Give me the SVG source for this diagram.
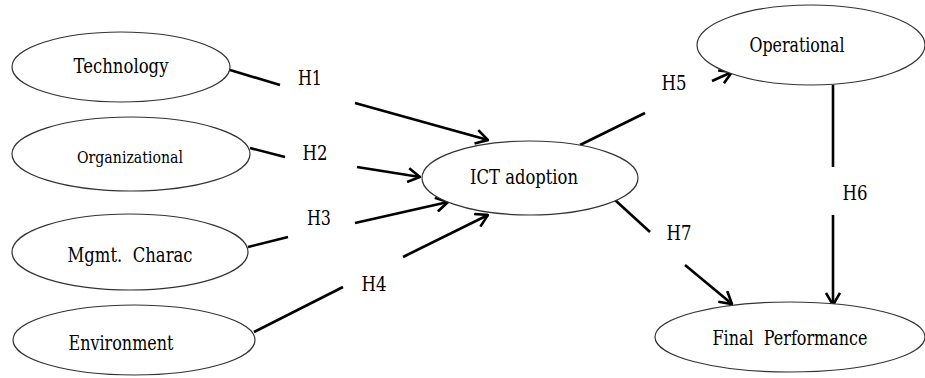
<svg xmlns="http://www.w3.org/2000/svg" width="925" height="378" viewBox="0 0 925 378">
<style>
.node ellipse{fill:#fff;stroke:#333;stroke-width:1.2}
.lbl{font-family:'DejaVu Serif','Liberation Serif',serif;font-size:21px;fill:#000;text-anchor:middle;white-space:pre}
.small{font-size:17px}
.h{font-family:'DejaVu Serif','Liberation Serif',serif;font-size:20px;fill:#000;text-anchor:middle}
.c{stroke:#000;stroke-width:2.6;fill:none;stroke-linecap:butt}
.a{marker-end:url(#arr)}
</style>
<defs>
<marker id="arr" viewBox="0 0 16 16" refX="15" refY="8" markerWidth="16" markerHeight="16" markerUnits="userSpaceOnUse" orient="auto">
<path d="M3,1 L15,8 L3,15" fill="none" stroke="#000" stroke-width="2.6"/>
</marker>
</defs>
<rect width="925" height="378" fill="#fff"/>
<g id="connectors">
<line class="c" x1="230" y1="70" x2="280" y2="85"/>
<line class="c a" x1="355" y1="103" x2="488" y2="140"/>
<line class="c" x1="250" y1="148" x2="285" y2="157"/>
<line class="c a" x1="357" y1="167" x2="420" y2="177"/>
<line class="c" x1="248" y1="247" x2="288" y2="237"/>
<line class="c a" x1="355" y1="223" x2="448" y2="202"/>
<line class="c" x1="254" y1="332" x2="343" y2="287"/>
<line class="c a" x1="403" y1="257" x2="488" y2="215"/>
<line class="c" x1="580" y1="145" x2="645" y2="113"/>
<line class="c a" x1="712" y1="81" x2="732" y2="72"/>
<line class="c" x1="833" y1="85" x2="833" y2="167"/>
<line class="c a" x1="833" y1="215" x2="833" y2="305"/>
<line class="c" x1="615" y1="200" x2="650" y2="232"/>
<line class="c a" x1="685" y1="265" x2="732" y2="304"/>
<text class="h" x="310" y="85" textLength="24" lengthAdjust="spacingAndGlyphs">H1</text>
<text class="h" x="315" y="160" textLength="25" lengthAdjust="spacingAndGlyphs">H2</text>
<text class="h" x="319" y="225" textLength="24" lengthAdjust="spacingAndGlyphs">H3</text>
<text class="h" x="374" y="291" textLength="25" lengthAdjust="spacingAndGlyphs">H4</text>
<text class="h" x="674" y="90" textLength="25" lengthAdjust="spacingAndGlyphs">H5</text>
<text class="h" x="855" y="200" textLength="25" lengthAdjust="spacingAndGlyphs">H6</text>
<text class="h" x="679" y="240" textLength="25" lengthAdjust="spacingAndGlyphs">H7</text>
</g>
<g id="technology" class="node">
<ellipse cx="121" cy="67" rx="109" ry="35"/>
<text class="lbl" x="121" y="73" textLength="95" lengthAdjust="spacingAndGlyphs">Technology</text>
</g>
<g id="organizational" class="node">
<ellipse cx="131" cy="154" rx="119" ry="37"/>
<text class="lbl small" x="130" y="163" textLength="106" lengthAdjust="spacingAndGlyphs">Organizational</text>
</g>
<g id="mgmt" class="node">
<ellipse cx="130" cy="252" rx="118" ry="38"/>
<text class="lbl" x="130" y="262" textLength="125" lengthAdjust="spacingAndGlyphs">Mgmt.  Charac</text>
</g>
<g id="environment" class="node">
<ellipse cx="134" cy="340" rx="121" ry="35"/>
<text class="lbl" x="121" y="350" textLength="105" lengthAdjust="spacingAndGlyphs">Environment</text>
</g>
<g id="ict" class="node">
<ellipse cx="530" cy="178" rx="108" ry="37"/>
<text class="lbl" x="524" y="184" textLength="108" lengthAdjust="spacingAndGlyphs">ICT adoption</text>
</g>
<g id="operational" class="node">
<ellipse cx="811" cy="45" rx="114" ry="40"/>
<text class="lbl" x="797" y="52" textLength="95" lengthAdjust="spacingAndGlyphs">Operational</text>
</g>
<g id="final" class="node">
<ellipse cx="790" cy="337" rx="135" ry="35"/>
<text class="lbl" x="790" y="345" textLength="155" lengthAdjust="spacingAndGlyphs">Final  Performance</text>
</g>
</svg>
